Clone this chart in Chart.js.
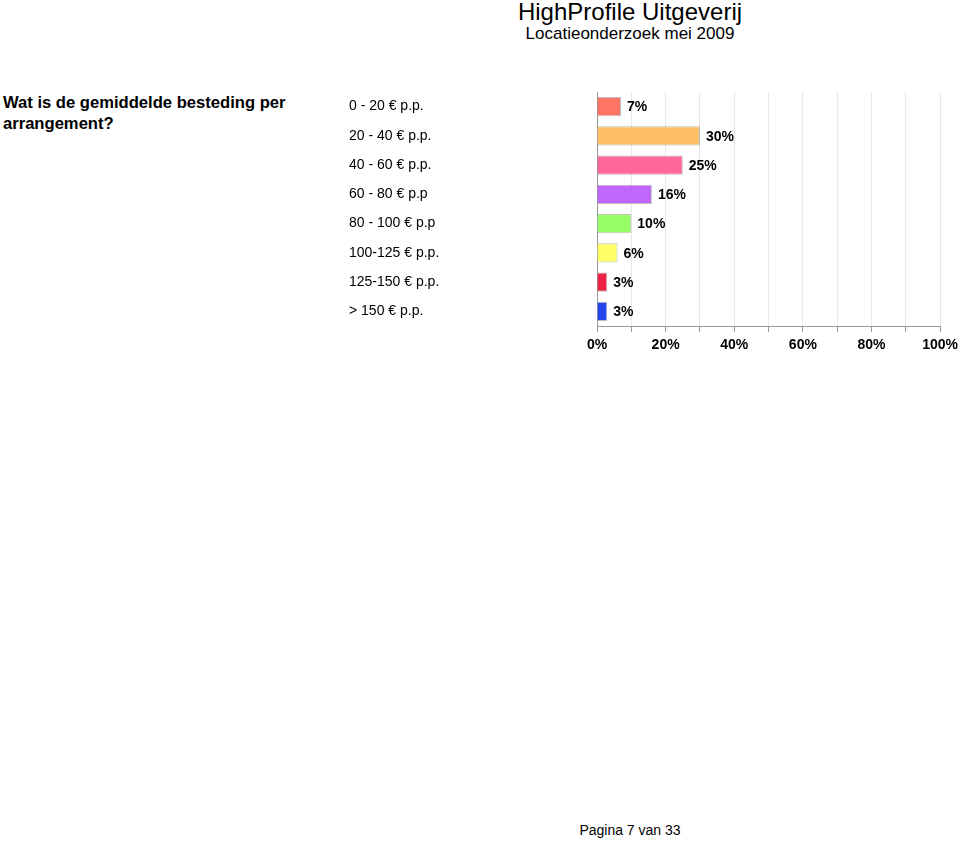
<!DOCTYPE html>
<html>
<head>
<meta charset="utf-8">
<script src="https://cdn.jsdelivr.net/npm/chart.js@4/dist/chart.umd.min.js"></script>
<style>
    body { margin: 0; width: 960px; height: 841px; background: #fff; font-family: "Liberation Sans", Arial, sans-serif; position: relative; overflow: hidden; }
    .abs { position: absolute; color: #000; }
    #title { left: 430px; width: 400px; top: 0px; text-align: center; font-size: 24px; line-height: 24px; }
    #subtitle { left: 430px; width: 400px; top: 25px; text-align: center; font-size: 17px; line-height: 17px; }
    #question { left: 3px; top: 92px; font-size: 16.6px; line-height: 21px; font-weight: bold; }
    #footer { left: 430px; width: 400px; top: 822px; text-align: center; font-size: 14px; line-height: 16px; }
    #wrap { position: absolute; left: 349px; top: 80px; width: 614px; height: 289px; }
</style>
</head>
<body>
<div id="title" class="abs">HighProfile Uitgeverij</div>
<div id="subtitle" class="abs">Locatieonderzoek mei 2009</div>
<div id="question" class="abs">Wat is de gemiddelde besteding per<br>arrangement?</div>
<div id="wrap"><canvas id="barChart"></canvas></div>
<div id="footer" class="abs">Pagina 7 van 33</div>
<script>
const categories = ["0 - 20 € p.p.", "20 - 40 € p.p.", "40 - 60 € p.p.", "60 - 80 € p.p", "80 - 100 € p.p", "100-125 € p.p.", "125-150 € p.p.", "> 150 € p.p."];
const percentages = [7, 30, 25, 16, 10, 6, 3, 3];
const barColors = ["#ff7565", "#ffbf66", "#ff6699", "#bf66ff", "#99ff66", "#ffff66", "#ee2244", "#2244ee"];
const xTicks = [0, 20, 40, 60, 80, 100];

const valueLabels = {
    id: "valueLabels",
    afterDatasetsDraw(chart) {
        const ctx = chart.ctx;
        const meta = chart.getDatasetMeta(0);
        ctx.save();
        ctx.font = "bold 14px 'Liberation Sans', Arial, sans-serif";
        ctx.fillStyle = "#000";
        ctx.textBaseline = "middle";
        ctx.textAlign = "left";
        meta.data.forEach((bar, i) => {
            ctx.fillText(percentages[i] + "%", bar.x + 6, bar.y + 1);
        });
        ctx.restore();
    }
};

new Chart(document.getElementById("barChart").getContext("2d"), {
    type: "bar",
    data: {
        labels: categories,
        datasets: [{
            data: percentages,
            backgroundColor: barColors,
            borderColor: "rgba(0,0,0,0.25)",
            borderWidth: 1,
            categoryPercentage: 1,
            barPercentage: 0.66
        }]
    },
    options: {
        indexAxis: "y",
        responsive: true,
        maintainAspectRatio: false,
        animation: false,
        layout: { padding: { top: 12, right: 19, bottom: 9, left: 0 } },
        plugins: { legend: { display: false }, tooltip: { enabled: false } },
        scales: {
            x: {
                min: 0,
                max: 100,
                afterFit: s => { s.height = 34; },
                ticks: {
                    stepSize: 10,
                    padding: 5,
                    autoSkip: false,
                    maxRotation: 0,
                    minRotation: 0,
                    color: "#000",
                    font: { family: "'Liberation Sans', Arial, sans-serif", size: 14, weight: "bold" },
                    callback: v => xTicks.includes(v) ? v + "%" : ""
                },
                grid: { color: "#e8e8e8", tickColor: "#999", tickLength: 6 },
                border: { color: "#999" }
            },
            y: {
                afterFit: s => { s.width = 248; },
                ticks: {
                    crossAlign: "far",
                    color: "#000",
                    font: { family: "'Liberation Sans', Arial, sans-serif", size: 14 }
                },
                grid: { display: false },
                border: { color: "#999" }
            }
        }
    },
    plugins: [valueLabels]
});
</script>
</body>
</html>
